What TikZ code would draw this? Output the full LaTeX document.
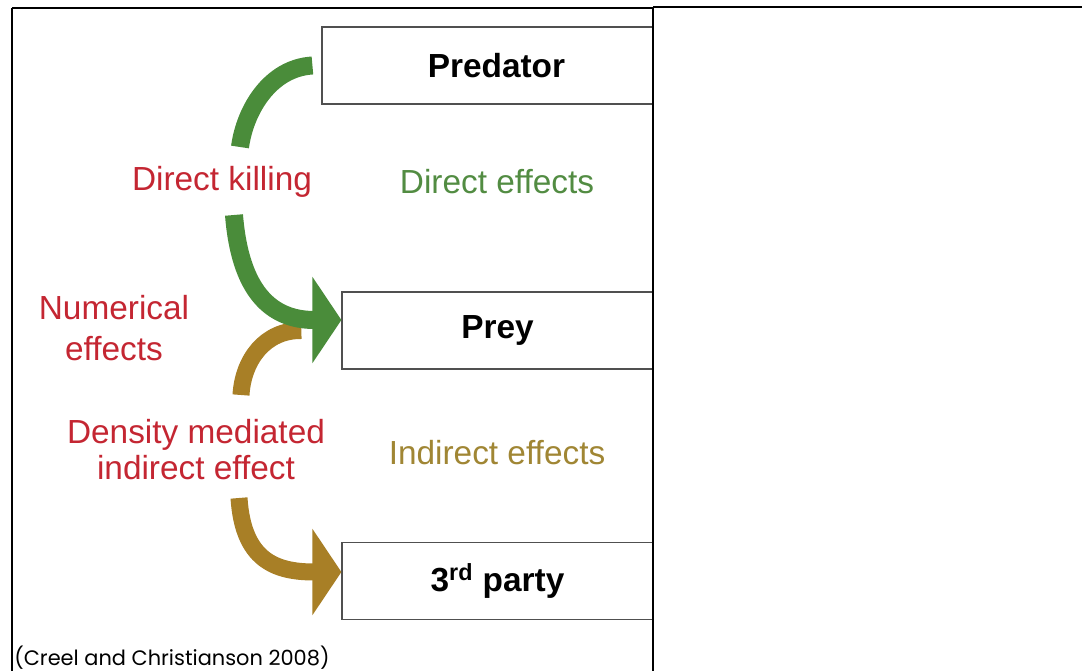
\documentclass[tikz,border=0pt]{standalone}
\usepackage{fontspec}
\setmainfont{Liberation Sans}
\newfontfamily\capfont{Poppins}
\usepackage{tikz}
\usetikzlibrary{arrows.meta,positioning,calc}
\definecolor{ArrowGreen}{RGB}{74,140,58}
\definecolor{TextGreen}{RGB}{82,140,66}
\definecolor{ArrowBrown}{RGB}{168,127,38}
\definecolor{TextBrown}{RGB}{160,134,52}
\definecolor{TextRed}{RGB}{196,38,50}
\definecolor{BoxGray}{RGB}{80,80,80}

\begin{document}
\begin{tikzpicture}[
 x=0.02cm, y=-0.02cm,
 species/.style={draw=BoxGray, line width=0.7pt, align=center, minimum height=1.54cm, font=\fontsize{19}{22}\selectfont\bfseries},
 effect/.style={align=center, font=\fontsize{19}{22.8}\selectfont},
 greenarr/.style={draw=ArrowGreen, line width=0.36cm},
 brownarr/.style={draw=ArrowBrown, line width=0.34cm},
 greentip/.style={-{Triangle[length=0.58cm, width=1.7cm]}},
 frame/.style={line width=1.1pt}
]
\useasboundingbox (0,0) rectangle (1082,671);

% boxes
\node[species, minimum width=6.62cm] (pred) at (487.5,65.5) {\hspace*{0.36cm}Predator};
\node[species, minimum width=6.22cm] (prey) at (497.5,330.5) {Prey};
\node[species, minimum width=6.22cm] (third) at (497.5,581) {3\textsuperscript{rd} party};

% labels
\node[effect, text=TextRed] (dkill) at (222,182) {Direct killing};
\node[effect, text=TextGreen] (deff) at (497,182) {Direct effects};
\node[effect, text=TextRed, font=\fontsize{19}{23.5}\selectfont] (numeff) at (114,328) {Numerical\\effects};
\node[effect, text=TextRed, font=\fontsize{19}{20.5}\selectfont] (dmie) at (196,450) {Density mediated\\indirect effect};
\node[effect, text=TextBrown] (ieff) at (497,453) {Indirect effects};

% arrow ends beside the labels
\coordinate (g1) at (240,147);
\coordinate (g2) at (234,215);
\coordinate (b1) at (241,395);
\coordinate (b2) at (239,498);

% brown arrow, prey -> 3rd party
\draw[brownarr] ([xshift=-0.8cm]prey.west) .. controls (265,330) and (243,360) .. (b1);
\draw[brownarr, greentip] (b2) .. controls (243,560) and (275,572) .. ([yshift=0.18cm]third.west);

% green arrow, predator -> prey
\draw[greenarr] ([xshift=-0.18cm]pred.west) .. controls (270,68) and (245,110) .. (g1);
\draw[greenarr, greentip] (g2) .. controls (240,290) and (270,320) .. ([yshift=0.21cm]prey.west);

% frames
\draw[frame, line width=0.85pt] (12,8) -- (653,8);
\draw[frame, line width=0.85pt] (12,8) -- (12,671);
\draw[frame] (653,7) -- (1082,7);
\draw[frame] (653,7) -- (653,671);

\node[anchor=base west, inner sep=0pt, font=\capfont\fontsize{11.9}{13}\selectfont] (cite) at (14,666) {(Creel and Christianson 2008)};
\end{tikzpicture}
\end{document}
